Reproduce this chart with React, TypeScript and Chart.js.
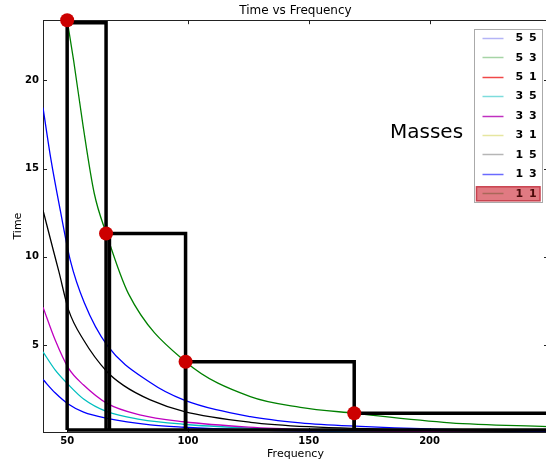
import React, { useEffect, useRef } from 'react';
import { Chart, registerables } from 'chart.js';

Chart.register(...registerables);

const FONT = "'DejaVu Sans', 'Bitstream Vera Sans', sans-serif";

// ---- text ----
const chartTitle = 'Time vs Frequency';
const xTitle = 'Frequency';
const yTitle = 'Time';

// ---- axis ticks ----
const xTickValues = [50, 100, 150, 200];
const yTickValues = [5, 10, 15, 20];

// ---- curves (frequency, time) ----
const freq55 = [40, 43.3, 47.2, 51.3, 57.1, 66.5, 84.4, 98.2, 125.8, 146.5, 171.3, 200, 250];
const time55 = [18.45, 15.5, 12.6, 9.8, 7.4, 5.0, 2.88, 1.9, 0.95, 0.6, 0.4, 0.25, 0.13];

const freq53 = [50, 52.7, 56.6, 61.2, 66.2, 75.4, 99, 125.8, 146.5, 168.8, 208.5, 250];
const time53 = [23.4, 21.1, 17.4, 13.6, 11.32, 7.9, 4.06, 2.08, 1.48, 1.14, 0.6, 0.38];

const freq15 = [40, 44.4, 46.5, 50.6, 56.8, 66.5, 73.3, 84.4, 98.2, 125.8, 150, 200, 250];
const time15 = [12.64, 10.3, 9.2, 6.98, 5.29, 3.49, 2.72, 1.9, 1.25, 0.63, 0.38, 0.18, 0.1];

const freq33 = [40, 45, 50.6, 56.8, 66.5, 80, 98.2, 125, 150, 200, 250];
const time33 = [7.15, 5.3, 3.68, 2.74, 1.7, 1.05, 0.66, 0.36, 0.22, 0.1, 0.06];

const freq35 = [40, 45, 50.6, 56.8, 66.5, 80, 98.2, 125, 150, 200, 250];
const time35 = [4.62, 3.6, 2.75, 1.95, 1.23, 0.8, 0.52, 0.3, 0.18, 0.08, 0.05];

const freq13 = [40, 45, 50.6, 56.8, 66.5, 84.4, 98.2, 125, 150, 200, 250];
const time13 = [3.05, 2.3, 1.65, 1.2, 0.85, 0.48, 0.35, 0.2, 0.13, 0.07, 0.04];

// ---- step boxes and peaks ----
const stepLeft = [50, 67.5, 99, 168.8];
const stepRight = [66.1, 99, 168.8, 260];
const stepTop = [23.25, 11.32, 4.06, 1.14];
const stepBase = 0.2;

const peakFreq = [50, 66.1, 99, 168.8];
const peakTime = [23.4, 11.32, 4.06, 1.14];

// ---- legend ----
const legendLabels = ['5 5', '5 3', '5 1', '3 5', '3 3', '3 1', '1 5', '1 3', '1 1'];
const legendColors = ['#b4b4f6', '#a6d4a6', '#f04848', '#7edcdc', '#c030c0', '#e6e6a0', '#b6b6b6', '#6a6aff', '#a86858'];
const legendTitle = 'Masses';

const zip = (xs: number[], ys: number[]) => xs.map((x, i) => ({ x, y: ys[i] }));

const framePlugin = {
  id: 'frame',
  beforeDatasetsDraw(chart: any) {
    const { ctx, chartArea: a, scales } = chart;
    ctx.save();
    ctx.strokeStyle = '#222';
    ctx.lineWidth = 1;
    ctx.strokeRect(Math.round(a.left) + 0.5, Math.round(a.top) + 0.5, Math.round(a.right - a.left), Math.round(a.bottom - a.top));
    ctx.beginPath();
    xTickValues.forEach((v) => {
      const x = Math.round(scales.x.getPixelForValue(v)) + 0.5;
      ctx.moveTo(x, a.top); ctx.lineTo(x, a.top + 4);
      ctx.moveTo(x, a.bottom); ctx.lineTo(x, a.bottom - 4);
    });
    yTickValues.forEach((v) => {
      const y = Math.round(scales.y.getPixelForValue(v)) + 0.5;
      ctx.moveTo(a.left, y); ctx.lineTo(a.left + 4, y);
      ctx.moveTo(a.right, y); ctx.lineTo(a.right - 4, y);
    });
    ctx.stroke();
    // title centred over the plot area
    ctx.fillStyle = '#000';
    ctx.font = `12px ${FONT}`;
    ctx.textAlign = 'center';
    ctx.textBaseline = 'middle';
    ctx.fillText(chartTitle, (a.left + a.right) / 2, 11.2);
    ctx.restore();
  },
};

const legendPlugin = {
  id: 'customLegend',
  afterDraw(chart: any) {
    const { ctx } = chart;
    ctx.save();
    ctx.fillStyle = '#000';
    ctx.font = `20px ${FONT}`;
    ctx.textBaseline = 'alphabetic';
    ctx.textAlign = 'left';
    ctx.fillText(legendTitle, 390, 137.5);
    const bx = 474.5, by = 29.5, bw = 68, bh = 173;
    ctx.fillStyle = '#fff';
    ctx.fillRect(bx, by, bw, bh);
    ctx.strokeStyle = '#aaaaaa';
    ctx.lineWidth = 1;
    ctx.strokeRect(bx, by, bw, bh);
    const rowH = 19.45;
    legendLabels.forEach((lab, i) => {
      const cy = 37.7 + i * rowH;
      if (i === legendLabels.length - 1) {
        ctx.fillStyle = '#e07a82';
        ctx.fillRect(476.5, cy - 6.5, 63.5, 14);
        ctx.strokeStyle = '#c8404e';
        ctx.strokeRect(476.5, cy - 6.5, 63.5, 14);
      }
      ctx.strokeStyle = legendColors[i];
      ctx.lineWidth = 1.5;
      ctx.beginPath();
      ctx.moveTo(482.5, Math.round(cy) + 0.5);
      ctx.lineTo(503.5, Math.round(cy) + 0.5);
      ctx.stroke();
      ctx.fillStyle = i === legendLabels.length - 1 ? '#4a0a0a' : '#000';
      ctx.font = `bold 11px ${FONT}`;
      ctx.textBaseline = 'middle';
      ctx.textAlign = 'left';
      (ctx as any).letterSpacing = '1px';
      ctx.fillText(lab, 515.5, cy + 0.5);
      (ctx as any).letterSpacing = '0px';
    });
    ctx.restore();
  },
};

export default function App() {
  const ref = useRef<HTMLCanvasElement>(null);
  useEffect(() => {
    if (!ref.current) return;
    const curve = (label: string, xs: number[], ys: number[], color: string) => ({
      label,
      data: zip(xs, ys),
      borderColor: color,
      borderWidth: 1.3,
      pointRadius: 0,
      cubicInterpolationMode: 'monotone' as const,
      fill: false,
      order: 2,
    });
    const rects = stepLeft.map((l, i) => ({
      label: 'step' + i,
      data: [
        { x: l, y: stepBase },
        { x: l, y: stepTop[i] },
        { x: stepRight[i], y: stepTop[i] },
        { x: stepRight[i], y: stepBase },
      ],
      borderColor: '#000',
      borderWidth: 3.5,
      pointRadius: 0,
      tension: 0,
      fill: false,
      order: 1,
    }));
    const baseLine = {
      label: 'base',
      data: [
        { x: stepLeft[0], y: stepBase },
        { x: stepRight[stepRight.length - 1], y: stepBase },
      ],
      borderColor: '#000',
      borderWidth: 3.5,
      pointRadius: 0,
      fill: false,
      order: 1,
    };
    const peaks = {
      label: 'peaks',
      data: zip(peakFreq, peakTime),
      showLine: false,
      pointRadius: 7,
      pointBackgroundColor: '#cc0000',
      pointBorderColor: '#cc0000',
      pointBorderWidth: 0,
      clip: false as any,
      order: 0,
    };
    const chart = new Chart(ref.current, {
      type: 'line',
      data: {
        datasets: [
          peaks,
          ...rects,
          baseLine,
          curve('5 5', freq55, time55, '#0000ff'),
          curve('5 3', freq53, time53, '#008000'),
          curve('1 5', freq15, time15, '#000000'),
          curve('3 3', freq33, time33, '#bf00bf'),
          curve('3 5', freq35, time35, '#00bfbf'),
          curve('1 3', freq13, time13, '#0000ff'),
        ] as any,
      },
      options: {
        responsive: false,
        animation: false,
        devicePixelRatio: 1,
        layout: { padding: { top: 20.2, right: 3, bottom: 0, left: 0 } },
        plugins: {
          legend: { display: false },
          tooltip: { enabled: false },
          title: { display: false },
        },
        scales: {
          x: {
            type: 'linear',
            min: 40,
            max: 249,
            afterBuildTicks: (s: any) => { s.ticks = xTickValues.map((v) => ({ value: v })); },
            afterFit: (s: any) => { s.height = 30; },
            grid: { display: false, drawTicks: false },
            border: { display: false },
            ticks: { color: '#000', font: { family: FONT, size: 10, weight: 'bold' }, padding: 3, maxRotation: 0, autoSkip: false },
            title: { display: true, text: xTitle, color: '#000', font: { family: FONT, size: 11 }, padding: { top: 0, bottom: 1.4 } },
          },
          y: {
            type: 'linear',
            min: 0.08,
            max: 23.4,
            afterBuildTicks: (s: any) => { s.ticks = yTickValues.map((v) => ({ value: v })); },
            afterFit: (s: any) => { s.width = 43; },
            grid: { display: false, drawTicks: false },
            border: { display: false },
            ticks: { color: '#000', font: { family: FONT, size: 10, weight: 'bold' }, padding: 4 },
            title: { display: true, text: yTitle, color: '#000', font: { family: FONT, size: 11 }, padding: { top: 11.4, bottom: 0 } },
          },
        },
      } as any,
      plugins: [framePlugin, legendPlugin],
    });
    return () => chart.destroy();
  }, []);
  return (
    <div style={{ position: 'fixed', left: 0, top: 0, width: 546, height: 459, overflow: 'hidden', background: '#fff' }}>
      <canvas ref={ref} width={555} height={462} style={{ position: 'absolute', left: 0, top: 0 }} />
    </div>
  );
}
